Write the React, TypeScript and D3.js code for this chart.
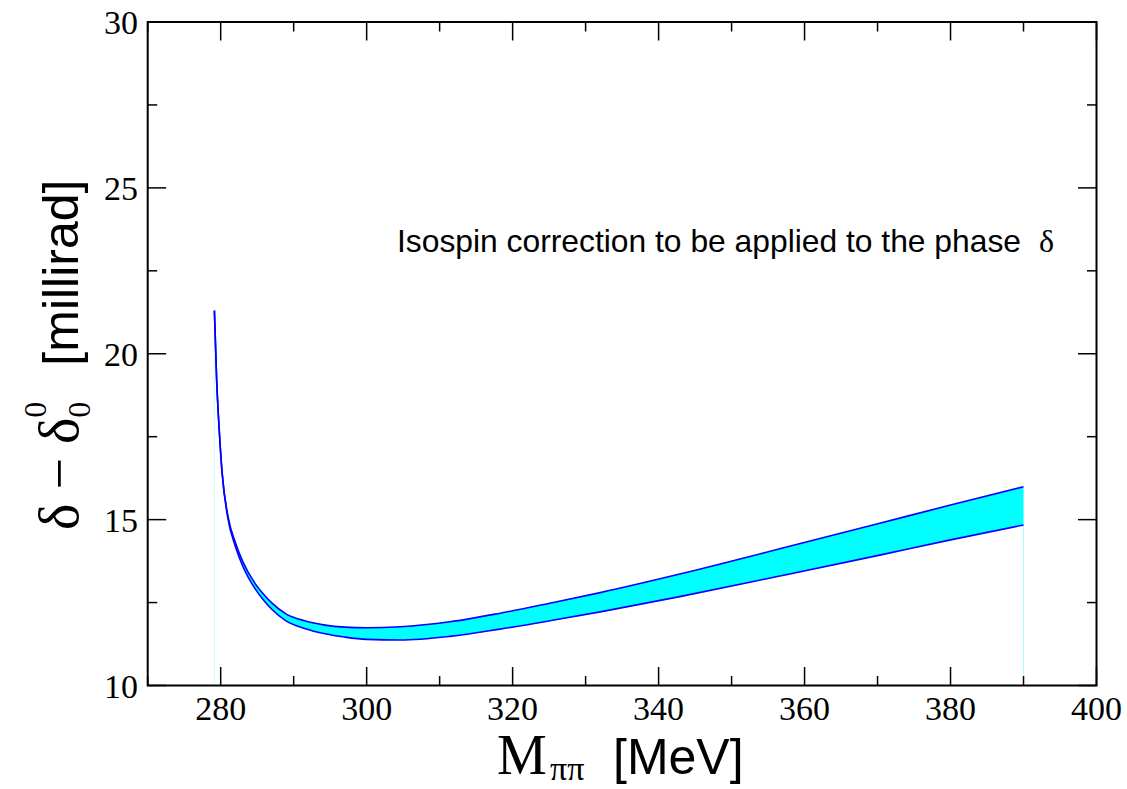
import React from "react";
import * as d3 from "d3";

const massMeV = [279.14, 279.45, 279.8, 280.2, 281.0, 282.0, 283.0, 284.7, 286.0, 287.0, 289.0, 291.5, 294.3, 297.0, 300.0, 304.6, 311.4, 318.3, 325.1, 332.0, 342.9, 356.6, 370.3, 380.0, 390.0];
const upperMrad = [21.3, 19.2, 17.7, 16.4, 15.1, 14.32, 13.75, 13.08, 12.72, 12.49, 12.15, 11.95, 11.82, 11.76, 11.74, 11.77, 11.92, 12.18, 12.48, 12.8, 13.36, 14.12, 14.89, 15.44, 15.99];
const lowerMrad = [21.3, 19.2, 17.7, 16.4, 15.02, 14.2, 13.61, 12.92, 12.54, 12.3, 11.94, 11.72, 11.56, 11.46, 11.39, 11.37, 11.48, 11.7, 11.95, 12.22, 12.68, 13.3, 13.93, 14.39, 14.84];

const xMajorTicks = [280, 300, 320, 340, 360, 380, 400];
const xMinorTicks = [270, 290, 310, 330, 350, 370, 390];
const yMajorTicks = [10, 15, 20, 25, 30];
const yMinorTicks = [12.5, 17.5, 22.5, 27.5];

const annotation = "Isospin correction to be applied to the phase";

const W = 1127, H = 789;
const L = 147.7, R = 1096.5, T = 22, B = 685.5;

export default function App() {
  const x = d3.scaleLinear().domain([270, 400]).range([L, R]);
  const y = d3.scaleLinear().domain([10, 30]).range([B, T]);
  const pts = massMeV.map((m, i) => ({ m, u: upperMrad[i], l: lowerMrad[i] }));
  const curve = d3.curveMonotoneX;
  const area = d3.area<any>().x(d => x(d.m)).y0(d => y(d.l)).y1(d => y(d.u)).curve(curve);
  const up = d3.line<any>().x(d => x(d.m)).y(d => y(d.u)).curve(curve);
  const lo = d3.line<any>().x(d => x(d.m)).y(d => y(d.l)).curve(curve);
  const first = pts[0], last = pts[pts.length - 1];
  const serif = "'Liberation Serif', 'Times New Roman', serif";
  const sans = "'Liberation Sans', Arial, sans-serif";
  const MAJ = 18.5, MIN = 9.5;
  return (
    <svg width={W} height={H} style={{ position: "absolute", left: 0, top: 0, background: "#fff" }}>
      <rect x={0} y={0} width={W} height={H} fill="#fff" />
      <line x1={x(first.m)} x2={x(first.m)} y1={y(10)} y2={y(first.u)} stroke="#c8ffff" strokeWidth={1} />
      <line x1={x(last.m)} x2={x(last.m)} y1={y(10)} y2={y(last.l)} stroke="#a8ffff" strokeWidth={1} />
      <path d={area(pts) || ""} fill="#00ffff" stroke="none" />
      <path d={up(pts) || ""} fill="none" stroke="#0000ff" strokeWidth={1.6} />
      <path d={lo(pts) || ""} fill="none" stroke="#0000ff" strokeWidth={1.6} />
      <g stroke="#000" strokeWidth={1.5}>
        {xMajorTicks.map(t => (
          <g key={"xm" + t}>
            <line x1={x(t)} x2={x(t)} y1={B} y2={B - MAJ} />
            <line x1={x(t)} x2={x(t)} y1={T} y2={T + MAJ} />
          </g>
        ))}
        {xMinorTicks.map(t => (
          <g key={"xn" + t}>
            <line x1={x(t)} x2={x(t)} y1={B} y2={B - MIN} />
            <line x1={x(t)} x2={x(t)} y1={T} y2={T + MIN} />
          </g>
        ))}
        {yMajorTicks.map(t => (
          <g key={"ym" + t}>
            <line x1={L} x2={L + MAJ} y1={y(t)} y2={y(t)} />
            <line x1={R} x2={R - MAJ} y1={y(t)} y2={y(t)} />
          </g>
        ))}
        {yMinorTicks.map(t => (
          <g key={"yn" + t}>
            <line x1={L} x2={L + MIN} y1={y(t)} y2={y(t)} />
            <line x1={R} x2={R - MIN} y1={y(t)} y2={y(t)} />
          </g>
        ))}
      </g>
      <rect x={L} y={T} width={R - L} height={B - T} fill="none" stroke="#000" strokeWidth={2} />
      <g fontFamily={serif} fontSize={34} fill="#000">
        {xMajorTicks.map(t => (
          <text key={"xl" + t} x={x(t)} y={720} textAnchor="middle">{t}</text>
        ))}
        {yMajorTicks.map(t => (
          <text key={"yl" + t} x={138} y={y(t) + 12} textAnchor="end">{t}</text>
        ))}
      </g>
      <text x={497} y={774} fill="#000" fontFamily={serif} fontSize={56}>M</text>
      <text x={550} y={780} fill="#000" fontFamily={serif} fontSize={34}>ππ</text>
      <text x={613} y={774} fill="#000" fontFamily={sans} fontSize={50}>[MeV]</text>
      <g transform={`translate(78, 530) rotate(-90)`}>
        <text x={0} y={0} fill="#000" fontFamily={serif} fontSize={56}>
          δ − δ
          <tspan fontSize={32} dy={12}>0</tspan>
          <tspan fontSize={32} dx={-16} dy={-44}>0</tspan>
          <tspan fontFamily={sans} fontSize={50} dx={36} dy={32}>[millirad]</tspan>
        </text>
      </g>
      <text x={397} y={252} fill="#000" fontFamily={sans} fontSize={31.8}>
        {annotation}
        <tspan fontFamily={serif} fontSize={32} dx={18}>δ</tspan>
      </text>
    </svg>
  );
}
